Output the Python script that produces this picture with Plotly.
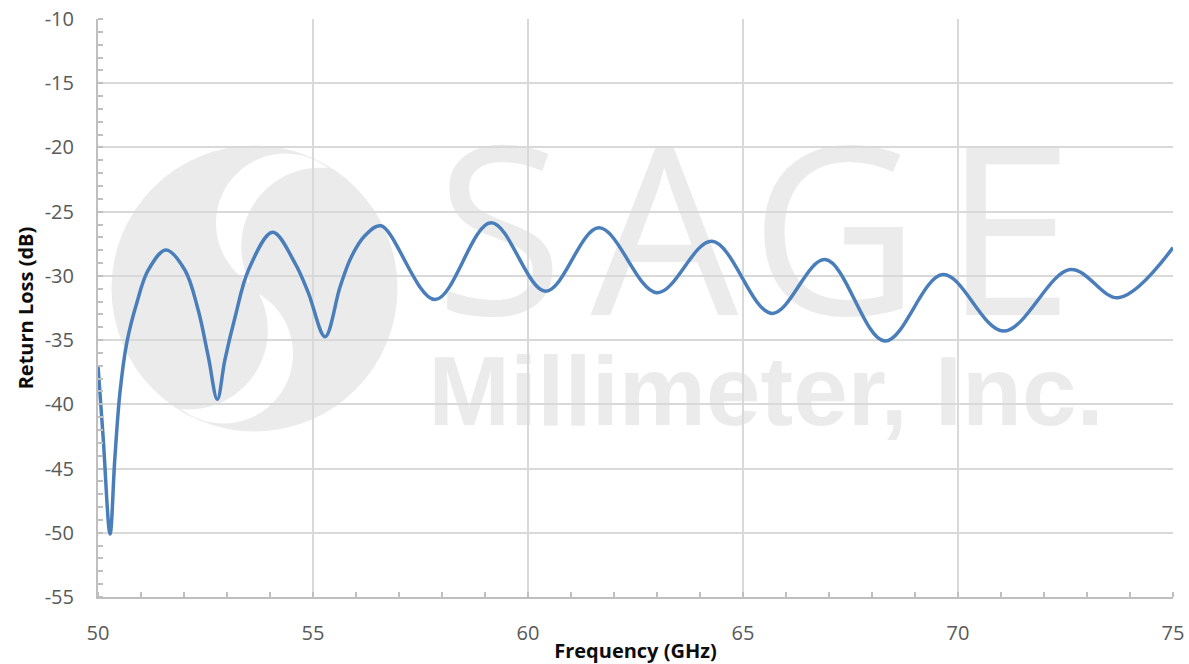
import numpy as np
import plotly.graph_objects as go

# ---------------- data ----------------
freq_ghz = [50.00, 50.12, 50.28, 50.39, 50.51, 50.67, 50.90, 51.17, 51.58,
            52.02, 52.33, 52.565, 52.775, 52.95, 53.19, 53.50, 54.06,
            54.58, 54.89, 55.28, 55.63, 55.88, 56.20, 56.58,
            57.84, 59.14, 60.41, 61.65, 63.00, 64.28, 65.67, 66.91,
            68.30, 69.65, 71.06, 72.61, 73.73, 75.00]
return_loss_db = [-37.0, -42.6, -50.1, -44.3, -39.1, -35.2, -32.13, -29.54, -27.98,
                  -29.54, -32.66, -36.29, -39.61, -36.55, -33.18, -29.54, -26.6,
                  -29.0, -31.3, -34.73, -30.85, -28.6, -26.9, -26.1,
                  -31.84, -25.87, -31.19, -26.26, -31.31, -27.3, -32.92, -28.73,
                  -35.07, -29.9, -34.3, -29.5, -31.7, -27.8]
x_tick_vals = [50, 55, 60, 65, 70, 75]
y_tick_vals = [-55, -50, -45, -40, -35, -30, -25, -20, -15, -10]
x_tick_text = [str(v) for v in x_tick_vals]
y_tick_text = [str(v) for v in y_tick_vals]

# ---------------- layout geometry ----------------
W, H = 1189, 664
L, R, T, B = 98, 1173, 19, 597
X0, X1 = 50, 75
Y0, Y1 = -55, -10
WM = "#ebebeb"


def to_data(px, py):
    x = X0 + (px - L) / (R - L) * (X1 - X0)
    y = Y1 - (py - T) / (B - T) * (Y1 - Y0)
    return x, y


def circle3(p1, p2, p3):
    ax, ay = p1; bx, by = p2; cx, cy = p3
    d = 2 * (ax * (by - cy) + bx * (cy - ay) + cx * (ay - by))
    ux = ((ax**2 + ay**2) * (by - cy) + (bx**2 + by**2) * (cy - ay) + (cx**2 + cy**2) * (ay - by)) / d
    uy = ((ax**2 + ay**2) * (cx - bx) + (bx**2 + by**2) * (ax - cx) + (cx**2 + cy**2) * (bx - ax)) / d
    return ux, uy, np.hypot(ax - ux, ay - uy)


def arc(c, pa, pb, pmid, n=80):
    ux, uy, r = c
    a1 = np.arctan2(pa[1] - uy, pa[0] - ux)
    a2 = np.arctan2(pb[1] - uy, pb[0] - ux)
    am = np.arctan2(pmid[1] - uy, pmid[0] - ux)
    d = (a2 - a1) % (2 * np.pi)
    sweep = d if (am - a1) % (2 * np.pi) < d else d - 2 * np.pi
    t = a1 + np.linspace(0, 1, n) * sweep
    return list(zip(ux + r * np.cos(t), uy + r * np.sin(t)))


def crescent_path(ta, tb, outer, inner):
    co = circle3(ta, tb, outer)
    ci = circle3(ta, tb, inner)
    pts = arc(co, ta, tb, outer) + arc(ci, tb, ta, inner)
    s = []
    for i, (px, py) in enumerate(pts):
        x, y = to_data(px, py)
        s.append(("M" if i == 0 else "L") + f"{x:.4f},{y:.4f}")
    return " ".join(s) + " Z"


shapes = []
# logo disk
C = (254.5, 288.5)
RAD = 143
x0d, y0d = to_data(C[0] - RAD, C[1] + RAD)
x1d, y1d = to_data(C[0] + RAD, C[1] - RAD)
shapes.append(dict(type="circle", xref="x", yref="y", x0=x0d, y0=y0d, x1=x1d, y1=y1d,
                   fillcolor=WM, line=dict(width=0), layer="below"))
# white S crescents
up = dict(ta=(250, 283), tb=(328, 168), outer=(216, 222), inner=(244, 226))


def sym(p):
    return (2 * C[0] - p[0], 2 * C[1] - p[1])


for cr in (up, {k: sym(v) for k, v in up.items()}):
    shapes.append(dict(type="path", xref="x", yref="y",
                       path=crescent_path(cr["ta"], cr["tb"], cr["outer"], cr["inner"]),
                       fillcolor="white", line=dict(width=0), layer="below"))


# watermark text
def text_shape(txt, cx, cy, size, family, weight, w=60, h=60):
    xa, ya = to_data(cx - w, cy + h)
    xb, yb = to_data(cx + w, cy - h)
    return dict(type="rect", xref="x", yref="y", x0=xa, y0=ya, x1=xb, y1=yb,
                line=dict(width=0), fillcolor="rgba(0,0,0,0)", layer="below",
                label=dict(text=txt, textposition="middle center",
                           font=dict(size=size, color=WM, family=family, weight=weight)))


for ch, cx in zip("SAGE", [499.5, 664.5, 835, 1008.5]):
    shapes.append(text_shape(ch, cx, 240, 234, "Open Sans", 400))
shapes.append(text_shape("Millimeter, Inc.", 766, 382, 98, "Liberation Sans", 700, w=340))

fig = go.Figure()
fig.add_trace(go.Scatter(x=freq_ghz, y=return_loss_db, mode="lines",
                         line=dict(color="#4a7ebb", width=3.5, shape="spline", smoothing=1.0),
                         hoverinfo="skip", showlegend=False))

axis_font = dict(family="Open Sans", size=20, color="#595959")
title_font = dict(family="Open Sans", size=20, color="#0d0d0d", weight="bold")
fig.update_layout(
    width=W, height=H,
    margin=dict(l=L, r=W - R, t=T, b=H - B),
    paper_bgcolor="white", plot_bgcolor="white",
    shapes=shapes,
    showlegend=False,
)
fig.update_xaxes(
    range=[X0, X1], tickvals=x_tick_vals, ticktext=x_tick_text, ticks="", tickfont=axis_font,
    showgrid=True, gridcolor="#d9d9d9", gridwidth=1.5,
    showline=True, linecolor="#bfbfbf", linewidth=2, zeroline=False,
    minor=dict(dtick=1, ticks="inside", ticklen=5, tickcolor="#bfbfbf", tickwidth=1.5, showgrid=False),
    ticklabelstandoff=17,
    title=dict(text="Frequency (GHz)", font=title_font, standoff=2),
    automargin=False,
)
fig.update_yaxes(
    range=[Y0, Y1], tickvals=y_tick_vals, ticktext=y_tick_text, ticks="", tickfont=axis_font,
    showgrid=True, gridcolor="#d9d9d9", gridwidth=1.5,
    showline=True, linecolor="#bfbfbf", linewidth=2, zeroline=False,
    minor=dict(dtick=1, ticks="inside", ticklen=5, tickcolor="#bfbfbf", tickwidth=1.5, showgrid=False),
    ticklabelstandoff=18,
    title=dict(text="Return Loss (dB)", font=title_font, standoff=6),
    automargin=False,
)

fig.write_html("out.html", config={"displayModeBar": False},
               post_script="document.body.style.margin='0';document.body.style.overflow='hidden';")
